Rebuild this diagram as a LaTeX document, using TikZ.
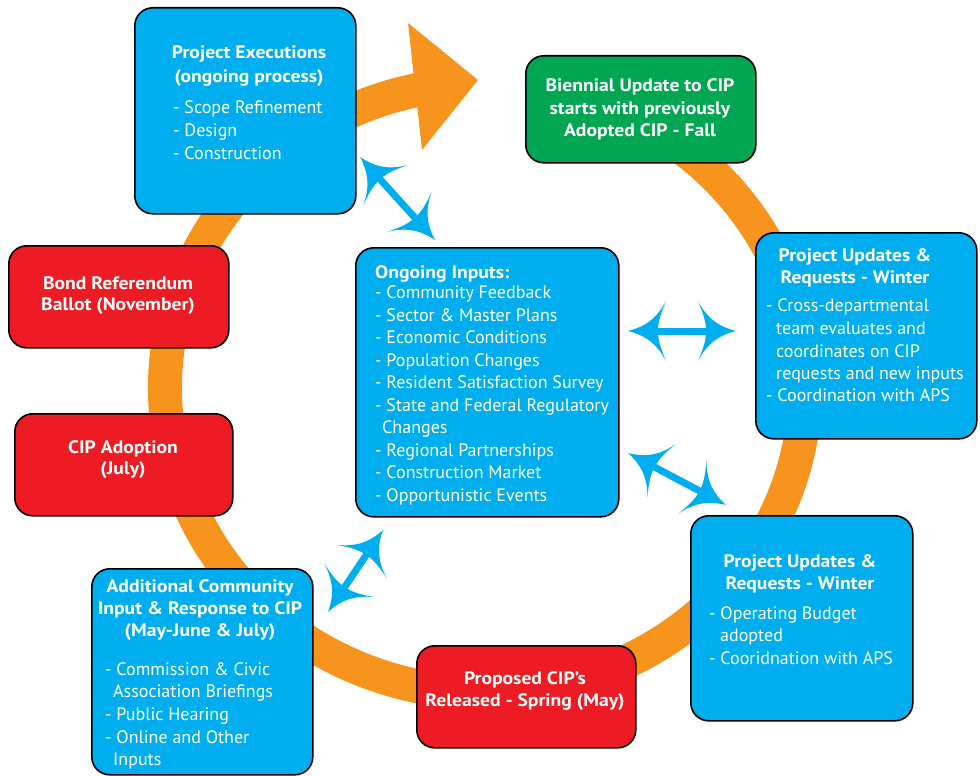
\documentclass[tikz,border=0pt]{standalone}
\usepackage{fontspec}
\setmainfont{PT Sans}[BoldFeatures={FakeStretch=1.09}]
\definecolor{cipblue}{HTML}{00AEEF}
\definecolor{cipred}{HTML}{ED1C24}
\definecolor{cipgreen}{HTML}{00A651}
\definecolor{ciporange}{HTML}{F7941D}
\pgfdeclarearrow{
  name = Flare,
  setup code = {
    \pgfarrowssettipend{0pt}
    \pgfarrowssetlineend{-28pt}
    \pgfarrowssetbackend{-38pt}
    \pgfarrowssetvisualbackend{-30pt}
    \pgfarrowshullpoint{0pt}{0pt}
    \pgfarrowshullpoint{-38pt}{30pt}
    \pgfarrowshullpoint{-38pt}{-30pt}
  },
  drawing code = {
    \pgfpathmoveto{\pgfpointorigin}
    \pgfpathcurveto{\pgfpoint{-20pt}{5pt}}{\pgfpoint{-30pt}{15pt}}{\pgfpoint{-38pt}{30pt}}
    \pgfpathcurveto{\pgfpoint{-33pt}{18pt}}{\pgfpoint{-30pt}{10pt}}{\pgfpoint{-30pt}{0pt}}
    \pgfpathcurveto{\pgfpoint{-30pt}{-10pt}}{\pgfpoint{-33pt}{-18pt}}{\pgfpoint{-38pt}{-30pt}}
    \pgfpathcurveto{\pgfpoint{-30pt}{-15pt}}{\pgfpoint{-20pt}{-5pt}}{\pgfpointorigin}
    \pgfpathclose
    \pgfusepathqfill
  }
}
\begin{document}
\begin{tikzpicture}[x=1pt,y=-1pt,
  box/.style={draw=black, line width=1.6pt, rounded corners=18pt, inner sep=0pt, anchor=north west},
  bluebox/.style={box, fill=cipblue},
  redbox/.style={box, fill=cipred},
  greenbox/.style={box, fill=cipgreen},
  t/.style={text=white, inner sep=0pt, font=\fontsize{18}{20}\selectfont},
  tb/.style={t, anchor=base, font=\fontsize{18}{20}\selectfont\bfseries},
  tl/.style={t, anchor=base west},
  ring/.style={draw=ciporange, line width=34pt},
  dbl/.style={draw=cipblue, line width=7pt, Flare-Flare},
]
\useasboundingbox (0,0) rectangle (980,776);

% orange cycle
\coordinate (ringstart) at (599.7,103.3);
\draw[ring] (ringstart) arc[start angle=-69, end angle=258.3, x radius=320, y radius=305];
\fill[ciporange] (408,23) -- (478,80) -- (422,150) -- cycle;

% boxes
\node[bluebox, minimum width=221pt, minimum height=206pt] (pe) at (134,7) {};
\node[greenbox, minimum width=230pt, minimum height=107pt] (bu) at (525,55) {};
\node[bluebox, minimum width=221pt, minimum height=206pt] (pu1) at (755,232) {};
\node[bluebox, minimum width=222pt, minimum height=205pt] (pu2) at (690,515) {};
\node[redbox, minimum width=219pt, minimum height=102pt] (pr) at (416,645) {};
\node[bluebox, minimum width=221pt, minimum height=206pt] (ac) at (91,568) {};
\node[redbox, minimum width=218pt, minimum height=102pt] (ad) at (14,413) {};
\node[redbox, minimum width=220pt, minimum height=102pt] (br) at (8,245) {};
\node[bluebox, minimum width=263pt, minimum height=269pt] (oi) at (355,247) {};

% blue double arrows
\coordinate (a1) at (360,157); \coordinate (a2) at (435,240);
\coordinate (b1) at (628,331); \coordinate (b2) at (736,331);
\coordinate (c1) at (628,453); \coordinate (c2) at (726,505);
\coordinate (d1) at (383,530); \coordinate (d2) at (328,612);
\draw[dbl] (a1) -- (a2);
\draw[dbl] (b1) -- (b2);
\draw[dbl] (c1) -- (c2);
\draw[dbl] (d1) -- (d2);

% Project Executions
\node[tb] (pe-t1) at (249,59) {Project Executions};
\node[tb] (pe-t2) at (249,82) {(ongoing process)};
\foreach \s [count=\i] in {- Scope Refinement, - Design, - Construction}
  \node[tl] (pe-l\i) at (173,91+22.7*\i) {\s};

% Biennial
\node[tb] (bu-1) at (640,92) {Biennial Update to CIP};
\node[tb] (bu-2) at (640,114) {starts with previously};
\node[tb] (bu-3) at (640,136) {Adopted CIP - Fall};

% Project updates 1
\node[tb] (pu1-t1) at (855,261) {Project Updates \&};
\node[tb] (pu1-t2) at (855,283) {Requests - Winter};
\node[tl] (pu1-l1) at (766,311) {- Cross-departmental};
\node[tl] (pu1-l2) at (776,334) {team evaluates and};
\node[tl] (pu1-l3) at (776,357) {coordinates on CIP};
\node[tl] (pu1-l4) at (776,379) {requests and new inputs};
\node[tl] (pu1-l5) at (766,401) {- Coordination with APS};

% Project updates 2
\node[tb] (pu2-t1) at (800,567) {Project Updates \&};
\node[tb] (pu2-t2) at (800,589) {Requests - Winter};
\node[tl] (pu2-l1) at (709,619) {- Operating Budget};
\node[tl] (pu2-l2) at (720,641) {adopted};
\node[tl] (pu2-l3) at (709,664) {- Cooridnation with APS};

% Proposed
\node[tb] (pr-1) at (525,684) {Proposed CIP’s};
\node[tb] (pr-2) at (525,706) {Released - Spring (May)};

% Additional
\node[tb] (ac-t1) at (200,592) {Additional Community};
\node[tb] (ac-t2) at (200,614) {Input \& Response to CIP};
\node[tb] (ac-t3) at (200,636) {(May-June \& July)};
\node[tl] (ac-l1) at (105,675) {- Commission \& Civic};
\node[tl] (ac-l2) at (113,697) {Association Briefings};
\node[tl] (ac-l3) at (105,720) {- Public Hearing};
\node[tl] (ac-l4) at (105,743) {- Online and Other};
\node[tl] (ac-l5) at (113,765) {Inputs};

% CIP adoption, Bond
\node[tb] (ad-1) at (123,453) {CIP Adoption};
\node[tb] (ad-2) at (123,474) {(July)};
\node[tb] (br-1) at (118,289) {Bond Referendum};
\node[tb] (br-2) at (118,310) {Ballot (November)};

% Ongoing inputs
\node[tl, font=\fontsize{18}{20}\selectfont\bfseries] (oi-t) at (375,278) {Ongoing Inputs:};
\foreach \s [count=\i] in {- Community Feedback, - Sector \& Master Plans, - Economic Conditions, - Population Changes, - Resident Satisfaction Survey, - State and Federal Regulatory, \hspace*{7pt}Changes, - Regional Partnerships, - Construction Market, - Opportunistic Events}
  \node[tl] (oi-l\i) at (375,276.5+22.47*\i) {\s};
\end{tikzpicture}
\end{document}
